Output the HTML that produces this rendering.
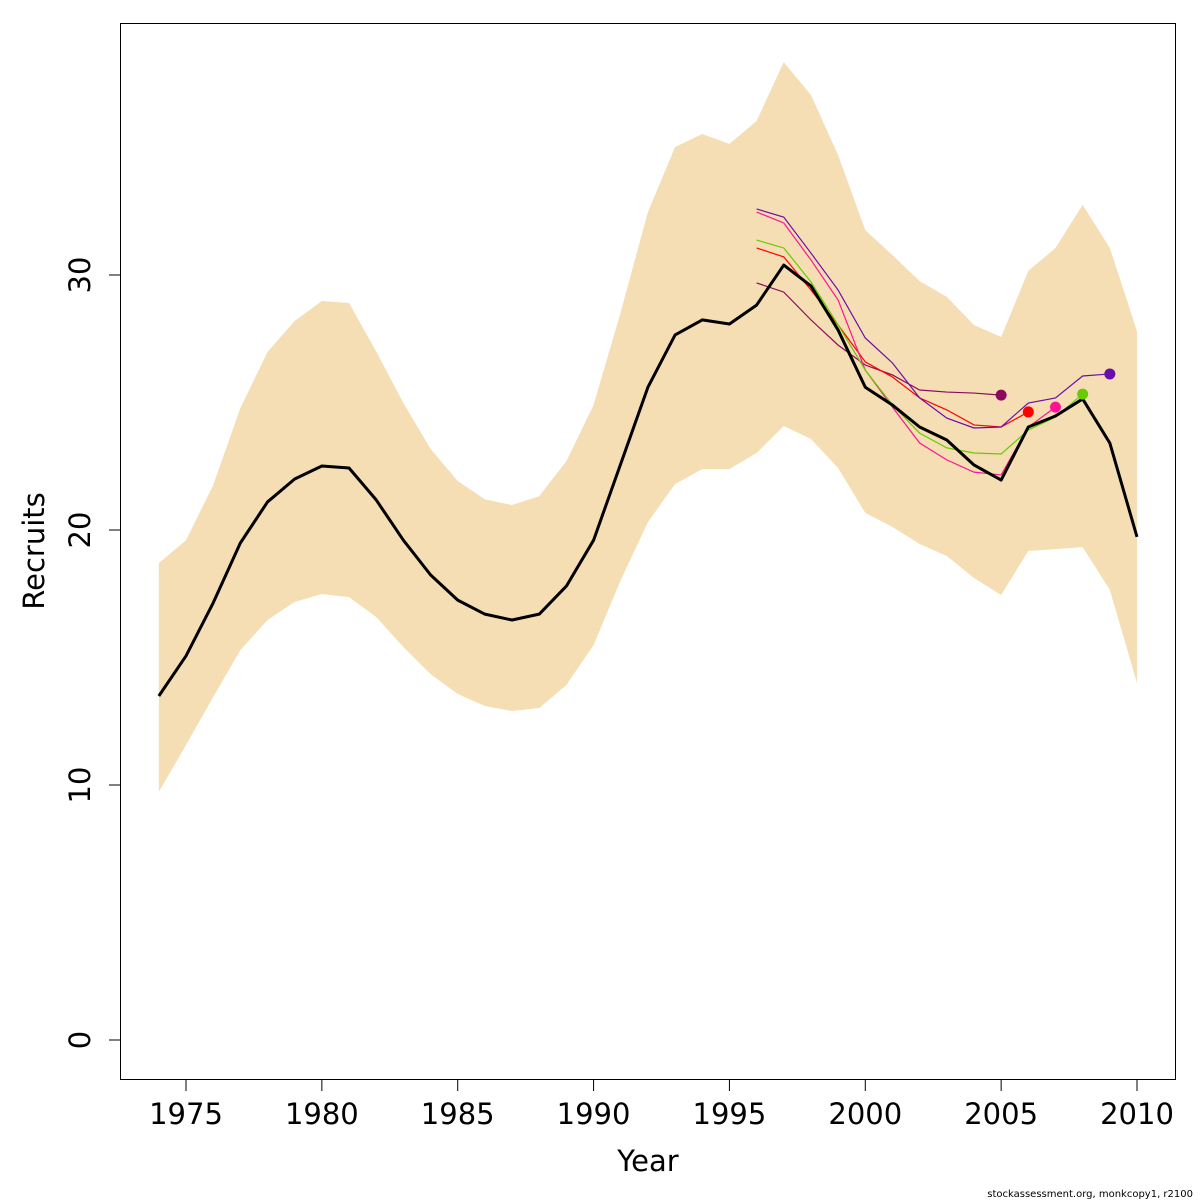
<!DOCTYPE html>
<html><head><meta charset="utf-8">
<style>
html,body{margin:0;padding:0;background:#fff;}
svg{display:block;font-family:"DejaVu Sans","Liberation Sans",sans-serif;}
</style></head>
<body>
<svg id="chart" width="1200" height="1200" viewBox="0 0 1200 1200"></svg>
<script>
const years = [];
for (let y = 1974; y <= 2010; y++) years.push(y);
const recruits = [13.49,15.06,17.14,19.49,21.10,22.0,22.51,22.43,21.18,19.6,18.24,17.25,16.7,16.47,16.7,17.8,19.6,22.6,25.6,27.65,28.24,28.08,28.82,30.39,29.57,27.84,25.6,24.9,24.04,23.53,22.55,21.96,24.04,24.47,25.14,23.41,19.73];
const upperCI = [18.7,19.6,21.76,24.78,26.98,28.2,28.98,28.9,27.0,24.98,23.18,21.92,21.2,20.98,21.33,22.7,24.9,28.55,32.47,35.02,35.53,35.14,36.04,38.35,37.06,34.7,31.76,30.78,29.76,29.14,28.04,27.57,30.16,31.06,32.75,31.06,27.8];
const lowerCI = [9.73,11.57,13.45,15.29,16.47,17.18,17.49,17.37,16.59,15.41,14.35,13.57,13.1,12.9,13.02,13.92,15.49,18.04,20.31,21.8,22.39,22.39,23.02,24.08,23.57,22.43,20.67,20.12,19.45,18.98,18.12,17.45,19.18,19.25,19.33,17.65,14.0];
const retroStart = 1996;
const retro2005 = [29.69,29.33,28.24,27.25,26.47,26.08,25.49,25.41,25.37,25.29];
const retro2006 = [31.06,30.71,29.41,28.04,26.59,26.0,25.18,24.71,24.12,24.04,24.63];
const retro2007 = [32.47,32.04,30.59,29.02,26.27,24.82,23.41,22.75,22.27,22.16,24.04,24.82];
const retro2008 = [31.37,31.06,29.73,28.04,26.27,24.9,23.8,23.22,23.02,22.98,23.92,24.43,25.33];
const retro2009 = [32.59,32.27,30.86,29.41,27.53,26.55,25.18,24.39,24.0,24.04,24.98,25.18,26.04,26.12];
const retroColors = ['#8B0A5E','#FF0000','#FF1493','#66CC00','#6A0DAD'];
const xTicks = [1975,1980,1985,1990,1995,2000,2005,2010];
const yTicks = [0,10,20,30];

const NS = 'http://www.w3.org/2000/svg';
const svg = document.getElementById('chart');
const xS = v => 186 + (v - 1975) * (1137 - 186) / 35;
const yS = v => 1040 - v * 25.5;
function mk(tag, attrs, parent) {
  const e = document.createElementNS(NS, tag);
  for (const k in attrs) e.setAttribute(k, attrs[k]);
  (parent || svg).appendChild(e);
  return e;
}
let d = '';
years.forEach((y, i) => { d += (i ? 'L' : 'M') + xS(y) + ',' + yS(upperCI[i]); });
for (let i = years.length - 1; i >= 0; i--) d += 'L' + xS(years[i]) + ',' + yS(lowerCI[i]);
const band = mk('path', {d: d + 'Z', fill: '#F5DEB3', stroke: 'none'});


const retros = [retro2005, retro2006, retro2007, retro2008, retro2009];
retros.forEach((arr, k) => {
  const pts = arr.map((v, i) => xS(retroStart + i) + ',' + yS(v)).join(' ');
  const pl = mk('polyline', {points: pts, fill: 'none', stroke: retroColors[k], 'stroke-width': 1.2});
  
  
});
const mainPts = years.map((y, i) => xS(y) + ',' + yS(recruits[i])).join(' ');
const ml = mk('polyline', {points: mainPts, fill: 'none', stroke: '#000', 'stroke-width': 3, 'stroke-linejoin': 'round'});


retros.forEach((arr, k) => {
  const last = arr.length - 1;
  const c = mk('circle', {cx: xS(retroStart + last), cy: yS(arr[last]), r: 5.5, fill: retroColors[k]});
  
  
});
const box = mk('rect', {x: 120.5, y: 23.5, width: 1055, height: 1056, fill: 'none', stroke: '#000', 'stroke-width': 1});


xTicks.forEach(t => {
  const l = mk('line', {x1: xS(t), x2: xS(t), y1: 1080, y2: 1091, stroke: '#000'});
  
  
  const tx = mk('text', {x: xS(t), y: 1124, 'text-anchor': 'middle', 'font-size': 29});
  tx.textContent = t;
  
  
});
yTicks.forEach(t => {
  const l = mk('line', {x1: 109, x2: 120, y1: yS(t), y2: yS(t), stroke: '#000'});
  
  
  const tx = mk('text', {x: 90, y: yS(t), 'text-anchor': 'middle', 'font-size': 29, transform: 'rotate(-90 90 ' + yS(t) + ')'});
  tx.textContent = t;
  
  
});
const xt = mk('text', {x: 648, y: 1171, 'text-anchor': 'middle', 'font-size': 29});
xt.textContent = 'Year';


const yt = mk('text', {x: 44, y: 551, 'text-anchor': 'middle', 'font-size': 29, transform: 'rotate(-90 44 551)'});
yt.textContent = 'Recruits';


const ft = mk('text', {x: 1193, y: 1197, 'text-anchor': 'end', 'font-size': 10});
ft.textContent = 'stockassessment.org, monkcopy1, r2100';


</script>
</body></html>
